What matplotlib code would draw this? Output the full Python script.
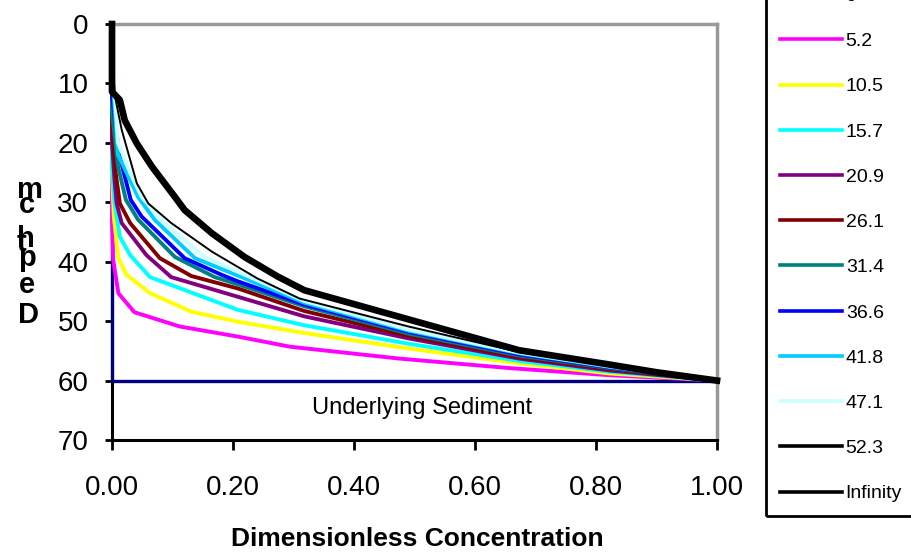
import matplotlib
matplotlib.use('Agg')
import matplotlib.pyplot as plt
from matplotlib.patches import Rectangle

plt.rcParams['font.family'] = ['Liberation Sans', 'DejaVu Sans']

# Series labels (time) and their colours
labels = ['0', '5.2', '10.5', '15.7', '20.9', '26.1', '31.4', '36.6',
          '41.8', '47.1', '52.3', 'Infinity']
colors = ['#000080', '#FF00FF', '#FFFF00', '#00FFFF', '#800080', '#800000',
          '#008080', '#0000FF', '#00CCFF', '#CCFFFF', '#000000', '#000000']

# Concentration / depth profiles
conc_0 = [0, 0, 1.0]
depth_0 = [0, 60, 60]

conc_5_2 = [0, 0, 0.002, 0.0105, 0.037, 0.112, 0.208, 0.294, 0.475, 0.657, 0.822, 1.0]
depth_5_2 = [0, 33, 39.7, 45.3, 48.5, 50.9, 52.6, 54.3, 56.3, 57.9, 59.1, 60]

conc_10_5 = [0, 0, 0.003, 0.0105, 0.024, 0.063, 0.131, 0.208, 0.318, 0.49, 0.673, 0.822, 1.0]
depth_10_5 = [0, 25, 32.4, 39.4, 42.2, 45.3, 48.4, 50.1, 52.0, 54.6, 57.1, 58.8, 60]

conc_15_7 = [0, 0, 0.004, 0.013, 0.030, 0.063, 0.208, 0.318, 0.49, 0.673, 0.822, 1.0]
depth_15_7 = [0, 24, 30, 35.8, 38.9, 42.6, 48.1, 50.7, 53.8, 56.7, 58.5, 60]

conc_20_9 = [0, 0, 0.004, 0.0077, 0.016, 0.057, 0.098, 0.208, 0.318, 0.49, 0.673, 0.822, 1.0]
depth_20_9 = [0, 20, 26, 30.2, 33.5, 38.9, 42.6, 45.9, 49.2, 52.9, 56.3, 58.3, 60]

conc_26_1 = [0, 0, 0.006, 0.013, 0.030, 0.079, 0.131, 0.208, 0.318, 0.49, 0.673, 0.822, 1.0]
depth_26_1 = [0, 17, 25, 30.2, 33.5, 39.4, 42.4, 44.5, 48.3, 52.5, 56.1, 58.1, 60]

conc_31_4 = [0, 0, 0.01, 0.023, 0.043, 0.104, 0.17, 0.208, 0.318, 0.49, 0.673, 0.822, 1.0]
depth_31_4 = [0, 15, 24, 29.6, 32.9, 39.2, 42.6, 43.8, 47.5, 52.1, 55.8, 57.9, 60]

conc_36_6 = [0, 0, 0.012, 0.031, 0.049, 0.12, 0.181, 0.208, 0.318, 0.49, 0.673, 0.822, 1.0]
depth_36_6 = [0, 12, 22, 29.6, 32.4, 39.4, 42.2, 43.3, 47.2, 51.8, 55.6, 57.8, 60]

conc_41_8 = [0, 0, 0.01, 0.043, 0.071, 0.137, 0.318, 0.49, 0.673, 0.822, 1.0]
depth_41_8 = [0, 8, 22, 29.1, 33.0, 39.4, 46.9, 51.6, 55.4, 57.7, 60]

conc_47_1 = [0, 0, 0.01, 0.03, 0.049, 0.087, 0.153, 0.318, 0.49, 0.673, 0.822, 1.0]
depth_47_1 = [0, 5, 20, 25, 29.1, 33.5, 39.2, 46.6, 51.4, 55.3, 57.6, 60]

conc_52_3 = [0, 0, 0.005, 0.016, 0.041, 0.06, 0.098, 0.165, 0.24, 0.31, 0.49, 0.673, 0.822, 1.0]
depth_52_3 = [0, 5, 12.2, 17.8, 26.8, 30.2, 33.5, 38.3, 42.8, 46.2, 50.9, 55.2, 57.5, 60]

conc_inf = [0, 0, 0.013, 0.021, 0.041, 0.066, 0.104, 0.12, 0.165, 0.219, 0.274, 0.318,
            0.49, 0.673, 0.822, 0.9, 1.0]
depth_inf = [0, 11.4, 12.8, 16.2, 20.1, 24.0, 29.1, 31.3, 35.2, 39.2, 42.5, 44.8,
             49.7, 54.9, 57.3, 58.6, 60]

concs = [conc_0, conc_5_2, conc_10_5, conc_15_7, conc_20_9, conc_26_1, conc_31_4,
         conc_36_6, conc_41_8, conc_47_1, conc_52_3, conc_inf]
depths = [depth_0, depth_5_2, depth_10_5, depth_15_7, depth_20_9, depth_26_1, depth_31_4,
          depth_36_6, depth_41_8, depth_47_1, depth_52_3, depth_inf]
widths = [2.4, 2.8, 2.8, 2.8, 2.8, 2.8, 2.8, 2.8, 2.8, 2.8, 1.4, 4.8]

fig = plt.figure(figsize=(9.12, 5.52), dpi=100)
ax = fig.add_axes([112 / 912, 1 - 440 / 552, 605 / 912, 416 / 552])

for c, d, lab, col, lw in zip(concs, depths, labels, colors, widths):
    ax.plot(c, d, color=col, lw=lw, label=lab, clip_on=False, zorder=3,
            solid_joinstyle='round')

ax.set_xlim(0, 1)
ax.set_ylim(70, 0)
ax.set_xticks([0, 0.2, 0.4, 0.6, 0.8, 1.0])
ax.set_xticklabels(['%.2f' % v for v in [0, 0.2, 0.4, 0.6, 0.8, 1.0]])
ax.set_yticks(range(0, 71, 10))
ax.tick_params(axis='x', direction='out', length=7, width=2, pad=18, labelsize=20)
ax.tick_params(axis='y', direction='out', length=5, width=2, pad=12, labelsize=20)

for side in ['left', 'bottom']:
    ax.spines[side].set_color('black')
    ax.spines[side].set_linewidth(2.2)
for side in ['top', 'right']:
    ax.spines[side].set_color('#999999')
    ax.spines[side].set_linewidth(2.5)

ax.text(0.513, 64.6, 'Underlying Sediment', ha='center', va='center', fontsize=17)

fig.text(417 / 912, 1 - 546 / 552, 'Dimensionless Concentration', ha='center',
         va='baseline', fontsize=19, fontweight='bold')

# stacked y-axis label
letters = ['m', 'c', 'h', 't', 'p', 'e', 'D']
letter_x = [30, 27, 26, 22, 27, 27, 29]
letter_base = [198, 213, 247, 251, 266, 293, 323]
for ch, lx, ly in zip(letters, letter_x, letter_base):
    fig.text(lx / 912, 1 - ly / 552, ch, ha='center', va='baseline',
             fontsize=21, fontweight='bold')

# legend box runs off the top and right of the picture
leg_x0, leg_y0 = 766 / 912, 1 - 516 / 552
leg = ax.legend(loc='lower left', bbox_to_anchor=(leg_x0, leg_y0),
                bbox_transform=fig.transFigure, borderaxespad=0,
                fontsize=14, labelspacing=1.42, handlelength=3.2, handletextpad=0.2,
                borderpad=0.7, frameon=False)
for h in leg.get_lines():
    h.set_linewidth(2.6)
fig.patches.append(Rectangle((leg_x0, leg_y0), 0.4, 1.0, transform=fig.transFigure,
                             fill=False, edgecolor='black', lw=2, figure=fig))

fig.savefig('out.png', dpi=100)
